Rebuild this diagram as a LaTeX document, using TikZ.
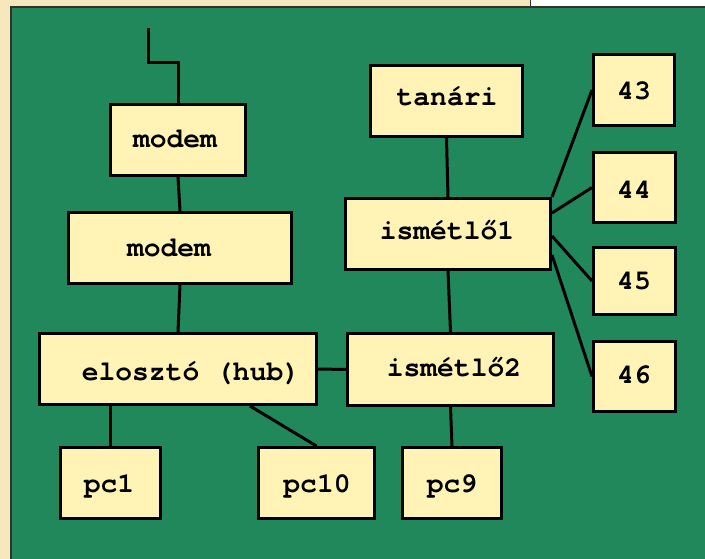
\documentclass[tikz,border=0pt]{standalone}
\usepackage{fontspec}
\setmonofont{TeX Gyre Cursor}
\definecolor{bggreen}{RGB}{33,136,92}
\definecolor{boxfill}{RGB}{255,243,182}
\definecolor{pagebeige}{RGB}{246,232,188}
\definecolor{edgegrey}{RGB}{50,50,45}
\tikzset{
  box/.style={draw=black, fill=boxfill, line width=3.4pt, rectangle, inner sep=0pt},
  lbl/.style={font=\ttfamily\bfseries\fontsize{28}{30}\selectfont, inner sep=0pt, anchor=base},
  wire/.style={draw=black, line width=3pt}
}
\newcommand\mkbox[5]{\node[box,minimum width={#4-#2-3.4},minimum height={#5-#3-3.4}] (#1) at ({(#2+#4)/2},{(#3+#5)/2}) {};}
\begin{document}
\begin{tikzpicture}[x=1pt,y=-1pt]
\useasboundingbox (0,0) rectangle (705,559);
% page background
\fill[white] (0,0) rectangle (705,559);
\fill[pagebeige] (0,0) rectangle (530,559);
\fill[bggreen] (11,7) rectangle (705,559);
\draw[edgegrey, line width=1.5pt] (11,559) -- (11,7) -- (705,7);
\draw[edgegrey, line width=0.8pt] (530,0) -- (530,7);
% boxes
\mkbox{modemA}{109}{103}{247}{177}
\mkbox{modemB}{67}{211}{293}{285}
\mkbox{hub}{38}{332}{318}{406}
\mkbox{pcA}{59}{446}{162}{520}
\mkbox{pcB}{257}{446}{376}{520}
\mkbox{tanari}{369}{64}{524}{138}
\mkbox{ismA}{344}{197}{552}{271}
\mkbox{ismB}{346}{332}{555}{407}
\mkbox{pcC}{401}{446}{503}{520}
\mkbox{nA}{592}{53}{676}{127}
\mkbox{nB}{592}{151}{677}{224}
\mkbox{nC}{592}{246}{677}{316}
\mkbox{nD}{592}{340}{677}{413}
% labels
\node[lbl] (tmodemA) at (175,148) {modem};
\node[lbl] (tmodemB) at (169,257) {modem};
\node[lbl] (thub) at (191,380) {elosztó (hub)};
\node[lbl] (tpcA) at (109,492) {pc1};
\node[lbl] (tpcB) at (317,492) {pc10};
\node[lbl] (ttanari) at (447,106) {tanári};
\node[lbl] (tismA) at (447,240) {ismétlő1};
\node[lbl] (tismB) at (454,376) {ismétlő2};
\node[lbl] (tpcC) at (452,492) {pc9};
\node[lbl] (tnA) at (634,100) {43};
\node[lbl] (tnB) at (634,199) {44};
\node[lbl] (tnC) at (634,289) {45};
\node[lbl] (tnD) at (634,383) {46};
% connectors
\coordinate (w0) at (148,28);
\coordinate (w1) at (148,63);
\draw[wire] (w0) -- (w1) -| (modemA.north);
\draw[wire] (modemA.south) -- (modemB.north);
\draw[wire] (modemB.south) -- (hub.north);
\draw[wire] (hub.east) -- (ismB.west);
\draw[wire] (pcA.north |- hub.south) -- (pcA.north);
\draw[wire] ([xshift=72pt]hub.south) -- (pcB.north);
\draw[wire] (tanari.south) -- (ismA.north);
\draw[wire] (ismA.south) -- (ismB.north);
\draw[wire] (ismB.south) -- (pcC.north);
\draw[wire] (ismA.north east) -- (nA.west);
\draw[wire] ([yshift=-16pt]ismA.north east) -- (nB.west);
\draw[wire] ([yshift=-2pt]ismA.east) -- (nC.west);
\draw[wire] ([yshift=-21pt]ismA.east) -- (nD.west);
\end{tikzpicture}
\end{document}
